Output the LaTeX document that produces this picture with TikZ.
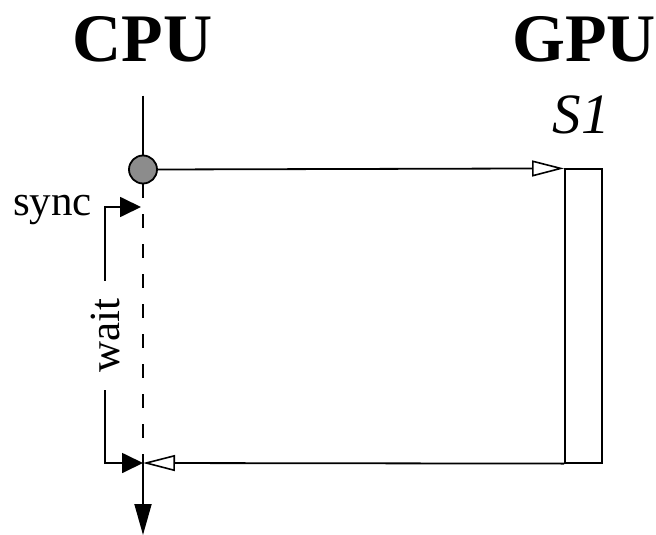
\documentclass[tikz,border=0pt]{standalone}
\usepackage{fontspec}
\setmainfont{Liberation Serif}
\usetikzlibrary{arrows.meta}

\begin{document}
\begin{tikzpicture}[x=1pt,y=-1pt,line width=1.8pt,
  opentip/.style={-{Triangle[open,length=32pt,width=16pt,line width=1.6pt]}},
  fulltip/.style={-{Triangle[length=21pt,width=20pt]}},
  downtip/.style={-{Triangle[length=31pt,width=17pt]}},
  title/.style={font=\bfseries\fontsize{68}{70}\selectfont,inner sep=0pt,anchor=base},
  note/.style={font=\fontsize{43}{45}\selectfont,inner sep=0pt}]
\path[use as bounding box] (0,0) rectangle (656,535);
% headings
\node[title] (cpu) at (142.5,61.5) {CPU};
\node[title] (gpu) at (584,61.5) {GPU};
\node[font=\itshape\fontsize{57}{60}\selectfont,inner sep=0pt,anchor=base] (s1) at (581,133) {S1};
% cpu time line
\coordinate (top) at (143,95.5);
\node[circle,draw,fill=black!45,minimum size=28pt,inner sep=0pt] (launch) at (143,169.5) {};
\coordinate (join) at (143,463);
\coordinate (bottom) at (143,535);
\draw (top) -- (launch.north);
\draw[dash pattern=on 14pt off 16pt] (launch.south) -- (join);
\draw[downtip] (join) -- (bottom);
% gpu stream
\node[draw,minimum width=36.7pt,minimum height=293.4pt,inner sep=0pt] (kernel) at (583.3,316) {};
\draw[opentip] (launch.east) -- (kernel.north west);
\draw[opentip] (kernel.south west) -- (join);
% sync / wait bracket
\node[note,anchor=base] (sync) at (52.5,215) {sync};
\node[note,rotate=90,inner xsep=17pt,inner ysep=0pt] (wait) at (105,335.5) {wait};
\coordinate (synctip) at (141,207);
\draw[fulltip] (wait.east) |- (synctip);
\draw[fulltip] (wait.west) |- (join);
\end{tikzpicture}
\end{document}
